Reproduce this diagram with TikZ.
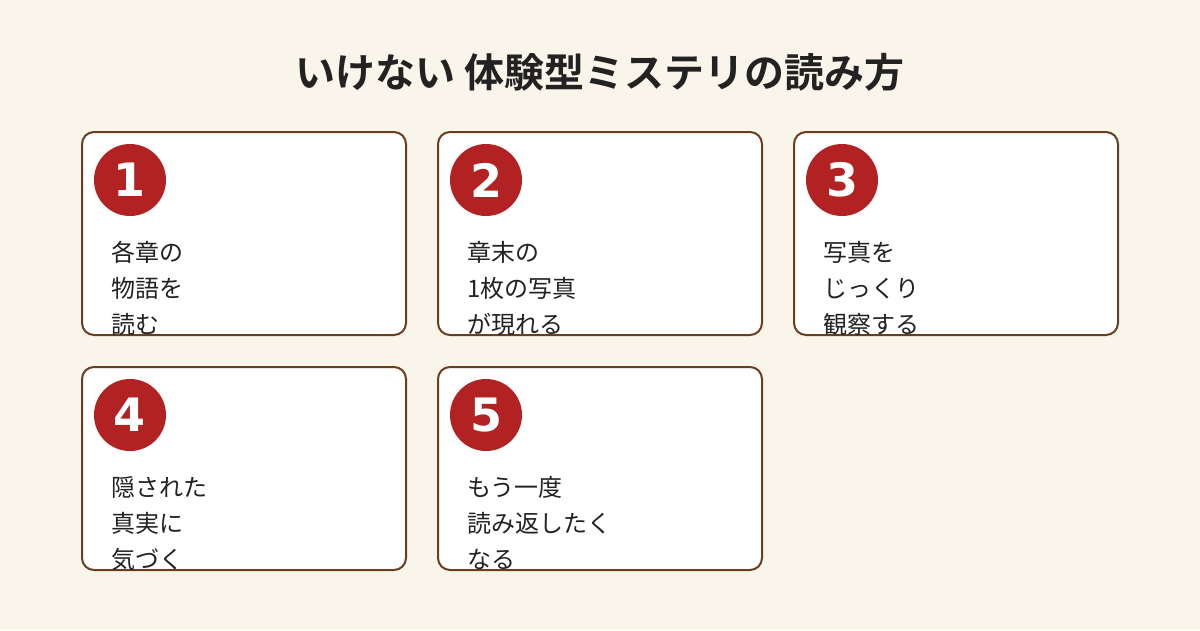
\documentclass[tikz,border=0pt]{standalone}
\usepackage{fontspec}
\setmainfont{Noto Sans CJK JP}
\newfontfamily\jpbold{Noto Sans CJK JP Bold}
\newfontfamily\numfont{DejaVu Sans Bold}
\usetikzlibrary{positioning}
\definecolor{paper}{HTML}{FAF5EA}
\definecolor{frame}{HTML}{6B3E1F}
\definecolor{badge}{HTML}{B22222}
\definecolor{ink}{HTML}{222222}

\begin{document}
\begin{tikzpicture}[x=1pt,y=-1pt,
    card/.style={draw=frame, line width=2pt, fill=white, rounded corners=12pt,
                 minimum width=324pt, minimum height=203pt, anchor=north west},
    num/.style={circle, fill=badge, text=white, minimum size=72pt, inner sep=0pt,
                font=\numfont\fontsize{46}{46}\selectfont},
    body/.style={anchor=north west, align=left, text=ink, inner sep=0pt,
                 font=\fontsize{24}{36}\selectfont}]
    \fill[paper] (0,0) rectangle (1200,630);
    \node[text=ink, font=\jpbold\fontsize{40}{40}\selectfont] (title) at (600,72)
        {いけない 体験型ミステリの読み方};
    \foreach \i/\x/\y/\txt in {1/81/131/{各章の\\物語を\\読む},
        2/437/131/{章末の\\1枚の写真\\が現れる},
        3/793/131/{写真を\\じっくり\\観察する},
        4/81/366/{隠された\\真実に\\気づく},
        5/437/366/{もう一度\\読み返したく\\なる}} {
        \node[card] (c\i) at (\x,\y) {};
        \node[num] (n\i) at (\x+49,\y+49) {\i};
        \node[body] (t\i) at (\x+30,\y+110) {\txt};
    }
\end{tikzpicture}
\end{document}
